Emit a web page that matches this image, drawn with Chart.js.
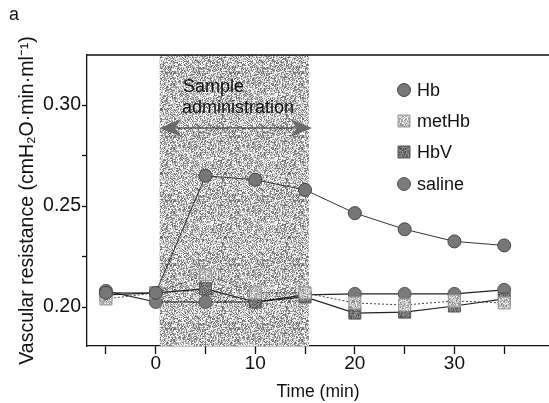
<!DOCTYPE html>
<html>
<head>
<meta charset="utf-8">
<script src="https://cdn.jsdelivr.net/npm/chart.js@4"></script>
<style>
  html, body { margin: 0; padding: 0; background: #fff; }
  #wrap { width: 549px; height: 403px; position: relative; }
</style>
</head>
<body>
<div id="wrap"><canvas id="chart" width="549" height="403"></canvas></div>
<script>
// ===== Data =====
const times = [-5, 0, 5, 10, 15, 20, 25, 30, 35];
const hb     = [0.207, 0.207, 0.265, 0.263, 0.258, 0.2465, 0.2385, 0.2325, 0.2305];
const metHb  = [0.204, 0.207, 0.216, 0.207, 0.207, 0.202, 0.201, 0.203, 0.202];
const hbv    = [0.206, 0.207, 0.209, 0.2025, 0.205, 0.197, 0.1975, 0.2005, 0.204];
const saline = [0.208, 0.2025, 0.2025, 0.2025, 0.206, 0.2065, 0.2065, 0.2065, 0.2085];

const xTickValues = [-5, 0, 5, 10, 15, 20, 25, 30, 35];
const xTickLabels = ["", "0", "", "10", "", "20", "", "30", ""];
const yTickValues = [0.20, 0.225, 0.25, 0.275, 0.30];
const yTickLabels = ["0.20", "", "0.25", "", "0.30"];

// sample administration window (min)
const shadeStart = 0.4;
const shadeEnd = 15.4;

const FONT = "'Liberation Sans', Arial, sans-serif";

// ===== speckled pattern for the shaded window =====
function makeSpeckle(base, spread) {
    const c = document.createElement("canvas");
    c.width = 64; c.height = 64;
    const g = c.getContext("2d");
    const img = g.createImageData(64, 64);
    let seed = 12345;
    for (let i = 0; i < 64 * 64; i++) {
        seed = (seed * 1103515245 + 12345) & 0x7fffffff;
        const r = (seed >> 8) % 1000 / 1000;
        const v = Math.max(0, Math.min(255, base + (r - 0.5) * spread));
        img.data[i * 4] = v; img.data[i * 4 + 1] = v; img.data[i * 4 + 2] = v; img.data[i * 4 + 3] = 255;
    }
    g.putImageData(img, 0, 0);
    return c;
}

const ctx = document.getElementById("chart").getContext("2d");
const shadePattern = ctx.createPattern(makeSpeckle(192, 190), "repeat");
const lightPattern = ctx.createPattern(makeSpeckle(190, 110), "repeat");
const darkPattern = ctx.createPattern(makeSpeckle(115, 80), "repeat");

function pts(values) {
    return times.map((t, i) => ({ x: t, y: values[i] }));
}

// ===== shaded window, arrow, labels, legend =====
const decorations = {
    id: "decorations",
    beforeDatasetsDraw(chart) {
        const { ctx, chartArea } = chart;
        const xs = chart.scales.x;
        const x0 = xs.getPixelForValue(shadeStart);
        const x1 = xs.getPixelForValue(shadeEnd);
        ctx.save();
        ctx.fillStyle = shadePattern;
        ctx.fillRect(x0, chartArea.top, x1 - x0, chartArea.bottom - chartArea.top);

        // double arrow
        const ay = 128;
        const a0 = x0, a1 = xs.getPixelForValue(15.7);
        ctx.strokeStyle = "#222";
        ctx.lineWidth = 1.2;
        ctx.beginPath();
        ctx.moveTo(a0 + 10, ay); ctx.lineTo(a1 - 10, ay);
        ctx.stroke();
        ctx.fillStyle = "#6a6a6a";
        ctx.beginPath();
        ctx.moveTo(a0, ay); ctx.lineTo(a0 + 22, ay - 9); ctx.lineTo(a0 + 15, ay); ctx.lineTo(a0 + 22, ay + 9);
        ctx.closePath(); ctx.fill();
        ctx.beginPath();
        ctx.moveTo(a1, ay); ctx.lineTo(a1 - 22, ay - 9); ctx.lineTo(a1 - 15, ay); ctx.lineTo(a1 - 22, ay + 9);
        ctx.closePath(); ctx.fill();

        ctx.fillStyle = "#111";
        ctx.font = "18px " + FONT;
        ctx.textBaseline = "middle";
        ctx.textAlign = "left";
        ctx.fillText("Sample", 183, 87);
        ctx.fillText("administration", 182, 108);

        // top border line
        ctx.strokeStyle = "#111";
        ctx.lineWidth = 1.3;
        ctx.beginPath();
        ctx.moveTo(chartArea.left, chartArea.top);
        ctx.lineTo(chart.width, chartArea.top);
        ctx.stroke();
        ctx.restore();
    },
    afterDraw(chart) {
        const { ctx } = chart;
        ctx.save();
        ctx.font = "18px " + FONT;
        ctx.textBaseline = "middle";
        ctx.textAlign = "left";
        const rows = [90, 121, 152, 184];
        chart.data.datasets.forEach((ds, i) => {
            const y = rows[i];
            const x = 404;
            ctx.fillStyle = ds.pointBackgroundColor;
            ctx.strokeStyle = ds.pointBorderColor;
            ctx.lineWidth = 1;
            ctx.beginPath();
            if (ds.pointStyle === "circle") ctx.arc(x, y, 6.5, 0, Math.PI * 2);
            else ctx.rect(x - 6, y - 6, 12, 12);
            ctx.fill(); ctx.stroke();
            ctx.fillStyle = "#111";
            ctx.fillText(ds.label, 417, y + 1);
        });
        ctx.fillText("a", 9, 15);
        ctx.restore();
    }
};

new Chart(ctx, {
    type: "line",
    data: {
        datasets: [
            {
                label: "Hb",
                data: pts(hb),
                borderColor: "#333",
                borderWidth: 1,
                pointStyle: "circle",
                pointRadius: 6.5,
                pointBackgroundColor: "#777",
                pointBorderColor: "#444",
                pointBorderWidth: 1
            },
            {
                label: "metHb",
                data: pts(metHb),
                borderColor: "#444",
                borderWidth: 1,
                borderDash: [2, 2],
                pointStyle: "rect",
                pointRadius: 8.5,
                pointBackgroundColor: lightPattern,
                pointBorderColor: "#999",
                pointBorderWidth: 1
            },
            {
                label: "HbV",
                data: pts(hbv),
                borderColor: "#222",
                borderWidth: 1.2,
                pointStyle: "rect",
                pointRadius: 8.5,
                pointBackgroundColor: darkPattern,
                pointBorderColor: "#555",
                pointBorderWidth: 1
            },
            {
                label: "saline",
                data: pts(saline),
                borderColor: "#222",
                borderWidth: 1.2,
                pointStyle: "circle",
                pointRadius: 6.5,
                pointBackgroundColor: "#7a7a7a",
                pointBorderColor: "#555",
                pointBorderWidth: 1
            }
        ]
    },
    options: {
        responsive: false,
        animation: false,
        layout: { autoPadding: false, padding: { top: 55, right: 0, left: 0, bottom: 0 } },
        plugins: {
            legend: { display: false },
            tooltip: { enabled: false }
        },
        scales: {
            x: {
                type: "linear",
                min: -6.9,
                max: 39.5,
                afterFit(s) { s.height = 57; s.paddingLeft = 0; s.paddingRight = 0; },
                afterBuildTicks(s) { s.ticks = xTickValues.map(v => ({ value: v })); },
                grid: { drawOnChartArea: false, drawTicks: true, tickLength: 8, color: "#111", tickWidth: 1.3 },
                border: { display: true, color: "#111", width: 1.3 },
                ticks: {
                    color: "#111",
                    padding: 0,
                    maxRotation: 0,
                    autoSkip: false,
                    font: { family: FONT, size: 19, lineHeight: 1 },
                    callback: (v) => {
                        const i = xTickValues.indexOf(v);
                        return i >= 0 ? xTickLabels[i] : "";
                    }
                },
                title: {
                    display: true,
                    text: "Time (min)",
                    color: "#111",
                    padding: { top: 0, bottom: 0 },
                    font: { family: FONT, size: 17.5, lineHeight: 1.2 }
                }
            },
            y: {
                min: 0.1807,
                max: 0.3248,
                afterFit(s) { s.width = 87; },
                afterBuildTicks(s) { s.ticks = yTickValues.map(v => ({ value: v })); },
                grid: { drawOnChartArea: false, drawTicks: true, tickLength: 5, color: "#111", tickWidth: 1.3 },
                border: { display: true, color: "#111", width: 1.3 },
                ticks: {
                    color: "#111",
                    padding: 1,
                    autoSkip: false,
                    font: { family: FONT, size: 19.5 },
                    callback: (v) => {
                        const i = yTickValues.findIndex(t => Math.abs(t - v) < 1e-6);
                        return i >= 0 ? yTickLabels[i] : "";
                    }
                },
                title: {
                    display: true,
                    text: "Vascular resistance (cmH\u2082O\u00b7min\u00b7ml\u207b\u00b9)",
                    color: "#111",
                    padding: { top: 16, bottom: 0 },
                    font: { family: FONT, size: 19.5, lineHeight: 1.2 }
                }
            }
        }
    },
    plugins: [decorations]
});
</script>
</body>
</html>
